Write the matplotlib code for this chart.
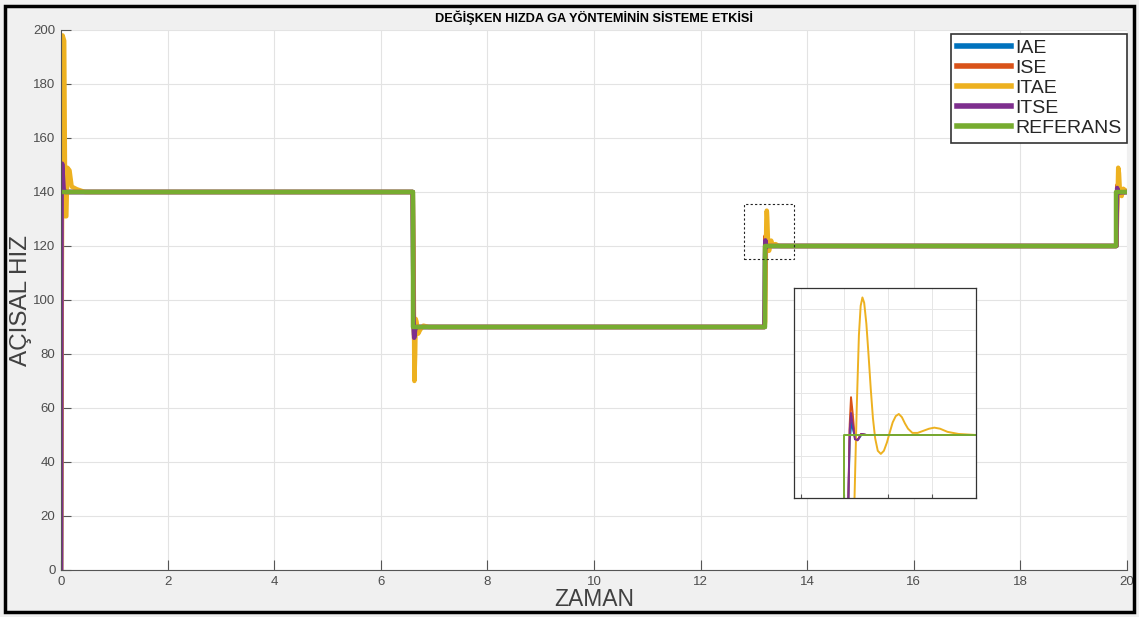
import matplotlib
matplotlib.use("Agg")
import matplotlib.pyplot as plt
from matplotlib.patches import Rectangle

plt.rcParams["font.family"] = ["Liberation Sans", "DejaVu Sans"]

# reference signal
ref_t = [0, 6.6, 6.6, 13.2, 13.2, 19.8, 19.8, 20]
ref_y = [140, 140, 90, 90, 120, 120, 140, 140]

# controller responses
iae_t = [0, 0.012, 0.025, 0.05, 0.08, 6.6, 6.612, 6.625, 6.645, 6.67,
         13.2, 13.205, 13.209, 13.212, 13.216, 13.22, 13.225, 13.232, 13.24, 13.25,
         19.8, 19.81, 19.818, 19.83, 19.85, 20]
iae_y = [0, 140, 148, 141, 140, 140, 95, 87, 89.5, 90,
         90, 100, 114, 119.5, 121.2, 120.5, 119.6, 119.6, 120.1, 120,
         120, 135, 141, 140.3, 139.9, 140]

ise_t = [0, 0.012, 0.028, 0.05, 0.08, 6.6, 6.612, 6.627, 6.645, 6.67,
         13.2, 13.205, 13.209, 13.212, 13.215, 13.219, 13.224, 13.23, 13.238, 13.25,
         19.8, 19.81, 19.818, 19.83, 19.85, 20]
ise_y = [0, 140, 155.5, 142, 140, 140, 95, 85, 89, 90,
         90, 100, 114, 121, 123.6, 122, 119.6, 119.5, 120.1, 120,
         120, 135, 142.5, 140.5, 139.8, 140]

itae_t = [0, 0.03, 0.06, 0.08, 0.10, 0.12, 0.16, 0.2, 0.3, 0.45,
          6.6, 6.615, 6.63, 6.645, 6.655, 6.67, 6.70, 6.74, 6.80, 6.9,
          13.2, 13.212, 13.223, 13.228, 13.233, 13.237, 13.241, 13.245, 13.25, 13.255,
          13.26, 13.265, 13.27, 13.276, 13.283, 13.29, 13.297, 13.303, 13.31, 13.317,
          13.324, 13.331, 13.338, 13.345, 13.355, 13.367, 13.38, 13.393, 13.405, 13.418,
          13.435, 13.46, 13.5,
          19.8, 19.82, 19.835, 19.85, 19.87, 19.9, 19.93, 19.97, 20]
itae_y = [0, 198, 196, 131, 131, 149, 148, 142, 141, 140,
          140, 115, 70, 80, 93, 92, 87.5, 89, 90.5, 90,
          90, 92, 114, 122.5, 129.5, 132.3, 133.1, 132.6, 130.6, 127.6,
          124.4, 121.6, 119.7, 118.5, 118.2, 118.5, 119.3, 120.2, 121.2, 121.8,
          122.0, 121.7, 121.1, 120.6, 120.2, 120.2, 120.4, 120.6, 120.7, 120.6,
          120.3, 120.1, 120.0,
          120, 135, 149, 147, 139, 138.5, 141.2, 140.6, 140.2]

itse_t = [0, 0.012, 0.022, 0.05, 0.08, 6.6, 6.612, 6.626, 6.645, 6.67,
          13.2, 13.205, 13.209, 13.212, 13.215, 13.219, 13.224, 13.23, 13.238, 13.25,
          19.8, 19.81, 19.815, 19.83, 19.85, 20]
itse_y = [0, 140, 150.5, 141, 140, 140, 95, 86, 89, 90,
          90, 100, 114, 120.5, 122.1, 121, 119.6, 119.5, 120.1, 120,
          120, 135, 141.5, 140, 139.8, 140]

series = [
    ("IAE", iae_t, iae_y, "#0072BD"),
    ("ISE", ise_t, ise_y, "#D95319"),
    ("ITAE", itae_t, itae_y, "#EDB120"),
    ("ITSE", itse_t, itse_y, "#7E2F8E"),
    ("REFERANS", ref_t, ref_y, "#77AC30"),
]

fig = plt.figure(figsize=(11.39, 6.17), dpi=100, facecolor="#f0f0f0")
fig.patches.append(Rectangle((0.004, 0.008), 0.992, 0.982, transform=fig.transFigure,
                             fill=False, edgecolor="black", linewidth=2.5))

ax = fig.add_axes([61 / 1139, 47 / 617, 1066 / 1139, 540 / 617])
for name, t, y, c in series:
    ax.plot(t, y, color=c, linewidth=3.2, label=name)

ax.set_xlim(0, 20)
ax.set_ylim(0, 200)
ax.set_xticks(range(0, 21, 2))
ax.set_yticks(range(0, 201, 20))
ax.grid(True, color="#e3e3e3", linewidth=0.8)
ax.set_axisbelow(True)
for s in ["top", "right"]:
    ax.spines[s].set_visible(False)
for s in ["left", "bottom"]:
    ax.spines[s].set_color("#555555")
ax.tick_params(direction="in", length=7, colors="#555555", labelsize=9.5,
               labelcolor="#4d4d4d", pad=4)

ax.set_title("DEĞİŞKEN HIZDA GA YÖNTEMİNİN SİSTEME ETKİSİ", fontsize=9.2,
             fontweight="bold", pad=6)
ax.set_xlabel("ZAMAN", fontsize=16.5, color="#404040", labelpad=0)
ax.set_ylabel("AÇISAL HIZ", fontsize=17.5, color="#404040", labelpad=1)

leg = ax.legend(loc="upper right", bbox_to_anchor=(1.0, 0.993), fontsize=14,
                fancybox=False, framealpha=1, edgecolor="#333333",
                handlelength=2.8, handletextpad=0.18, labelspacing=0.12,
                borderpad=0.3, borderaxespad=0)
for line in leg.get_lines():
    line.set_linewidth(4)
for txt in leg.get_texts():
    txt.set_color("#262626")
leg.get_frame().set_linewidth(1.2)

# dashed zoom window
ax.add_patch(Rectangle((12.81, 115.2), 0.94, 20.4, fill=False, linestyle=(0, (2, 2)),
                       edgecolor="#222222", linewidth=0.8, zorder=5))

# inset
ins = fig.add_axes([794 / 1139, 119 / 617, 182 / 1139, 210 / 617])
for name, t, y, c in series:
    ins.plot(t, y, color=c, linewidth=1.4)
ins.set_xlim(13.085, 13.5)
ins.set_ylim(114, 134)
ins.set_xticks([13.1, 13.2, 13.3, 13.4, 13.5])
ins.set_yticks(range(114, 135, 2))
ins.set_xticklabels([])
ins.set_yticklabels([])
ins.tick_params(axis="x", direction="in", length=3, colors="#555555")
ins.tick_params(axis="y", length=0)
ins.grid(True, color="#e6e6e6", linewidth=0.7)
for s in ins.spines.values():
    s.set_color("#333333")
    s.set_linewidth(0.9)

fig.savefig("out.png", dpi=100, facecolor=fig.get_facecolor())
